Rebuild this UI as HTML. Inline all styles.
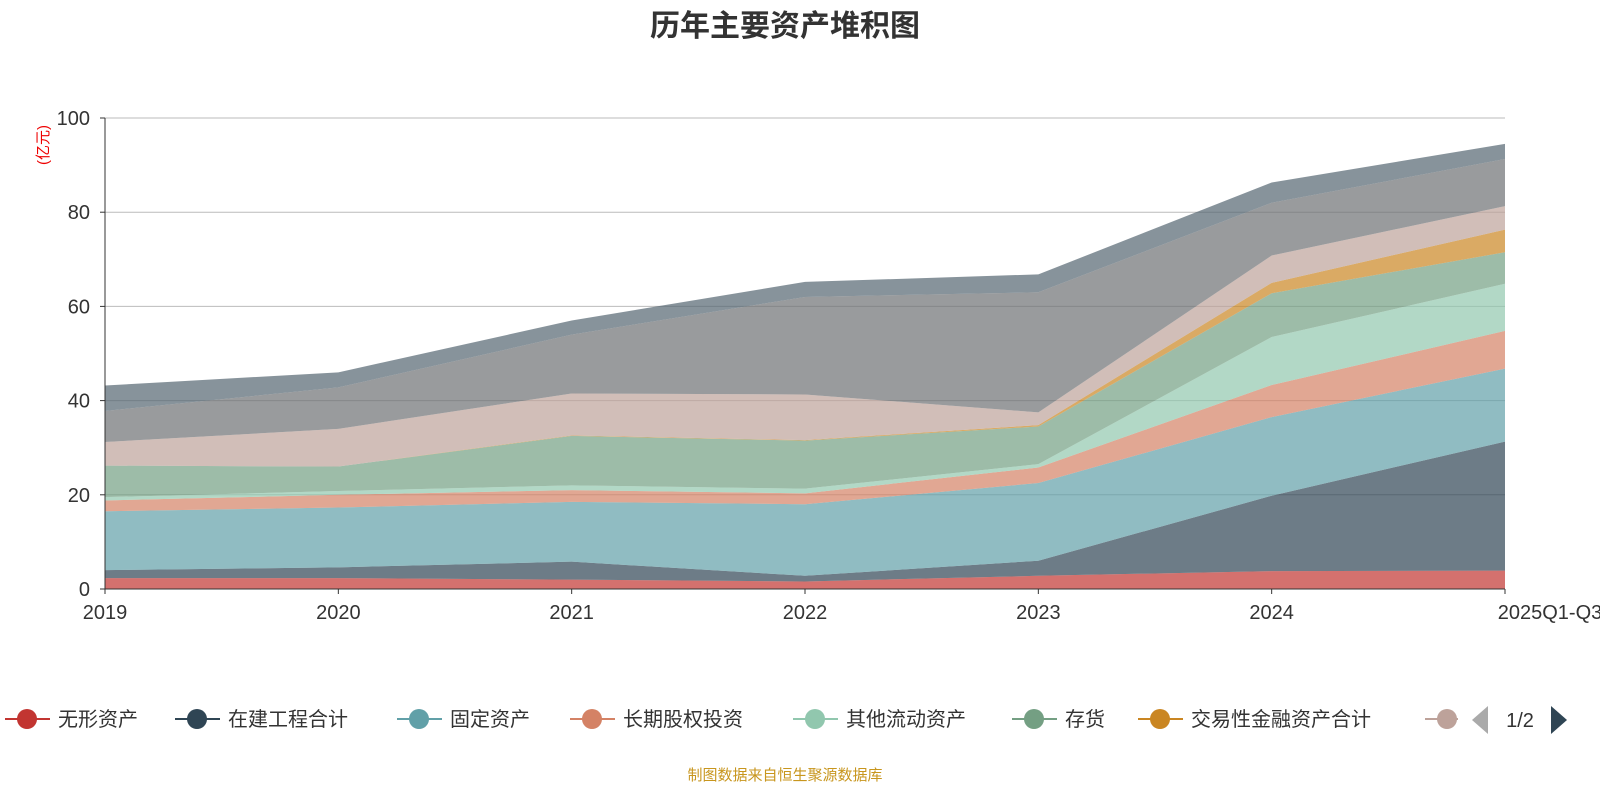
<!DOCTYPE html>
<html><head><meta charset="utf-8"><style>
body{margin:0;background:#fff;width:1600px;height:800px;overflow:hidden;font-family:"Liberation Sans","Noto Sans CJK SC",sans-serif}
</style></head><body>
<svg id="c" width="1600" height="800" xmlns="http://www.w3.org/2000/svg">
<text x="785" y="36" text-anchor="middle" font-size="30" font-weight="bold" fill="#333" font-family="Liberation Sans,Noto Sans CJK SC,sans-serif">历年主要资产堆积图</text>
<text transform="translate(48,145) rotate(-90)" text-anchor="middle" font-size="15" fill="#e00" font-family="Liberation Sans,Noto Sans CJK SC,sans-serif">(亿元)</text>
<text x="785" y="780" text-anchor="middle" font-size="15" fill="#c8961e" font-family="Liberation Sans,Noto Sans CJK SC,sans-serif">制图数据来自恒生聚源数据库</text>
<g id="grid"></g><g id="areas"></g><g id="axes"></g><g id="legend"></g>
</svg>
<script>
const categories=['2019','2020','2021','2022','2023','2024','2025Q1-Q3'];
const seriesNames=['无形资产','在建工程合计','固定资产','长期股权投资','其他流动资产','存货','交易性金融资产合计','应收账款','货币资金','其他'];
const s0=[2.3,2.3,2.0,1.6,2.8,3.8,3.9];
const s1=[1.7,2.3,3.8,1.2,3.2,16.0,27.4];
const s2=[12.5,12.7,12.7,15.2,16.5,16.7,15.5];
const s3=[2.3,2.7,2.5,2.3,3.3,6.8,8.0];
const s4=[0.7,0.8,1.0,1.0,0.7,10.2,10.0];
const s5=[6.7,5.2,10.5,10.2,8.0,9.3,6.7];
const s6=[0,0,0.1,0.1,0.3,2.2,4.8];
const s7=[5.0,8.0,8.9,9.7,2.7,5.8,5.0];
const s8=[6.6,8.8,12.5,20.7,25.5,11.2,10.0];
const s9=[5.4,3.2,3.0,3.2,3.8,4.3,3.2];
const yTicks=[0,20,40,60,80,100];
const series=[s0,s1,s2,s3,s4,s5,s6,s7,s8,s9];
const colors=['#c23531','#2f4554','#61a0a8','#d48265','#91c7ae','#749f83','#ca8622','#bda29a','#6e7074','#546570'];
const NS='http://www.w3.org/2000/svg';
const X0=105,X1=1505,Y0=589,Y1=118;
const xs=i=>X0+(X1-X0)*i/(categories.length-1);
const ys=v=>Y0-(Y0-Y1)*v/100;
function mk(t,a,p){const e=document.createElementNS(NS,t);for(const k in a)e.setAttribute(k,a[k]);p.appendChild(e);return e;}
const F='Liberation Sans,Noto Sans CJK SC,sans-serif';
const g=document.getElementById('grid');
yTicks.forEach(v=>{
 const l=mk('line',{x1:X0,x2:X1,y1:ys(v),y2:ys(v),stroke:'#bbb','stroke-width':1},g);
 
 
});
const ar=document.getElementById('areas');
let base=categories.map(()=>0);
series.forEach((s,k)=>{
 const top=base.map((b,i)=>b+s[i]);
 let d='M'+top.map((v,i)=>xs(i)+','+ys(v)).join('L');
 for(let i=categories.length-1;i>=0;i--)d+='L'+xs(i)+','+ys(base[i]);
 const p=mk('path',{d:d+'Z',fill:colors[k],'fill-opacity':0.7,stroke:'none'},ar);
 
 
 base=top;
});
const ax=document.getElementById('axes');
const ya=mk('line',{x1:X0,x2:X0,y1:Y1,y2:Y0,stroke:'#333'},ax);


const xa=mk('line',{x1:X0,x2:X1,y1:Y0,y2:Y0,stroke:'#333'},ax);


yTicks.forEach(v=>{
 mk('line',{x1:X0-5,x2:X0,y1:ys(v),y2:ys(v),stroke:'#333'},ax);
 const t=mk('text',{x:X0-15,y:ys(v)+7,'text-anchor':'end','font-size':20,fill:'#333','font-family':F},ax);
 t.textContent=v;
 
 
});
categories.forEach((c,i)=>{
 mk('line',{x1:xs(i),x2:xs(i),y1:Y0,y2:Y0+5,stroke:'#333'},ax);
 const t=mk('text',{x:i==categories.length-1?X1+45:xs(i),y:Y0+30,'text-anchor':'middle','font-size':20,fill:'#333','font-family':F},ax);
 t.textContent=c;
 
 
});
const lg=document.getElementById('legend');
const lx=[5,175,397,570,793,1012,1138,1425];
for(let k=0;k<8;k++){
 const gg=mk('g',{},lg);
 
 
 const x=lx[k];
 mk('line',{x1:x,x2:x+45,y1:719,y2:719,stroke:colors[k],'stroke-width':2},gg);
 mk('circle',{cx:x+22,cy:719,r:10,fill:colors[k]},gg);
 if(k<7){const t=mk('text',{x:x+53,y:726,'font-size':20,fill:'#333','font-family':F},gg);t.textContent=seriesNames[k];}
}
const pg=mk('g',{},lg);


mk('rect',{x:1458,y:700,width:12,height:40,fill:'#fff'},pg);
mk('polygon',{points:'1488,706 1488,734 1472,720',fill:'#aaa'},pg);
const pt=mk('text',{x:1520,y:727,'text-anchor':'middle','font-size':20,fill:'#333','font-family':F},pg);pt.textContent='1/2';
mk('polygon',{points:'1551,706 1551,734 1567,720',fill:'#2f4554'},pg);
</script>
</body></html>
